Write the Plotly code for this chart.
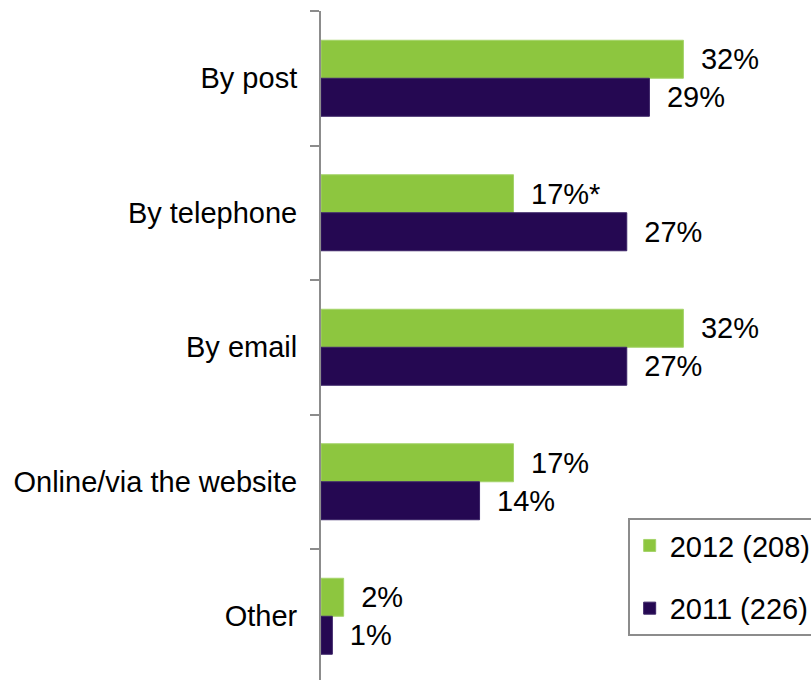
import plotly.graph_objects as go

categories = ["By post", "By telephone", "By email", "Online/via the website", "Other"]
values_2012 = [32, 17, 32, 17, 2]
values_2011 = [29, 27, 27, 14, 1]
labels_2012 = ["32%", "17%*", "32%", "17%", "2%"]
labels_2011 = ["29%", "27%", "27%", "14%", "1%"]
series_names = ["2012 (208)", "2011 (226)"]

FONT = "Liberation Sans, Arial, sans-serif"
FS = 29
GREEN = "#8DC63F"
PURPLE = "#250852"
GRID = "#8C8C8C"
PAD = "\u2002"

fig = go.Figure()
fig.add_trace(go.Bar(
    y=categories, x=values_2012, orientation="h", name=series_names[0],
    marker=dict(color=GREEN, line=dict(color="#A4D36A", width=1)),
    text=[PAD + t for t in labels_2012], textposition="outside",
    textfont=dict(family=FONT, size=FS, color="black"),
    legendgroup="a", cliponaxis=False,
))
fig.add_trace(go.Bar(
    y=categories, x=values_2011, orientation="h", name=series_names[1],
    marker=dict(color=PURPLE, line=dict(color="#3A2266", width=1)),
    text=[PAD + t for t in labels_2011], textposition="outside",
    textfont=dict(family=FONT, size=FS, color="black"),
    legendgroup="b", cliponaxis=False,
))

fig.update_layout(
    width=811, height=680,
    margin=dict(l=321, r=37, t=11, b=0, autoexpand=False),
    plot_bgcolor="white", paper_bgcolor="white",
    barmode="group", bargap=0.435, bargroupgap=0,
    uniformtext=dict(mode=False),
    font=dict(family=FONT, size=FS, color="black"),
    xaxis=dict(range=[0, 40], visible=False, fixedrange=True),
    yaxis=dict(
        type="category", range=[4.474, -0.5],
        showline=True, linecolor=GRID, linewidth=2,
        ticks="outside", tickson="boundaries", ticklen=9, tickwidth=2, tickcolor=GRID,
        ticklabelstandoff=16,
        tickfont=dict(family=FONT, size=FS, color="black"),
        showgrid=False, zeroline=False,
    ),
    showlegend=True,
    legend=dict(
        x=0.677, y=0.242, xanchor="left", yanchor="top",
        bordercolor=GRID, borderwidth=2, bgcolor="white",
        font=dict(family=FONT, size=FS, color="black"),
        traceorder="grouped", tracegroupgap=22, itemwidth=30,
    ),
)
fig.update_traces(constraintext="none")

fig.write_html("out.html")
